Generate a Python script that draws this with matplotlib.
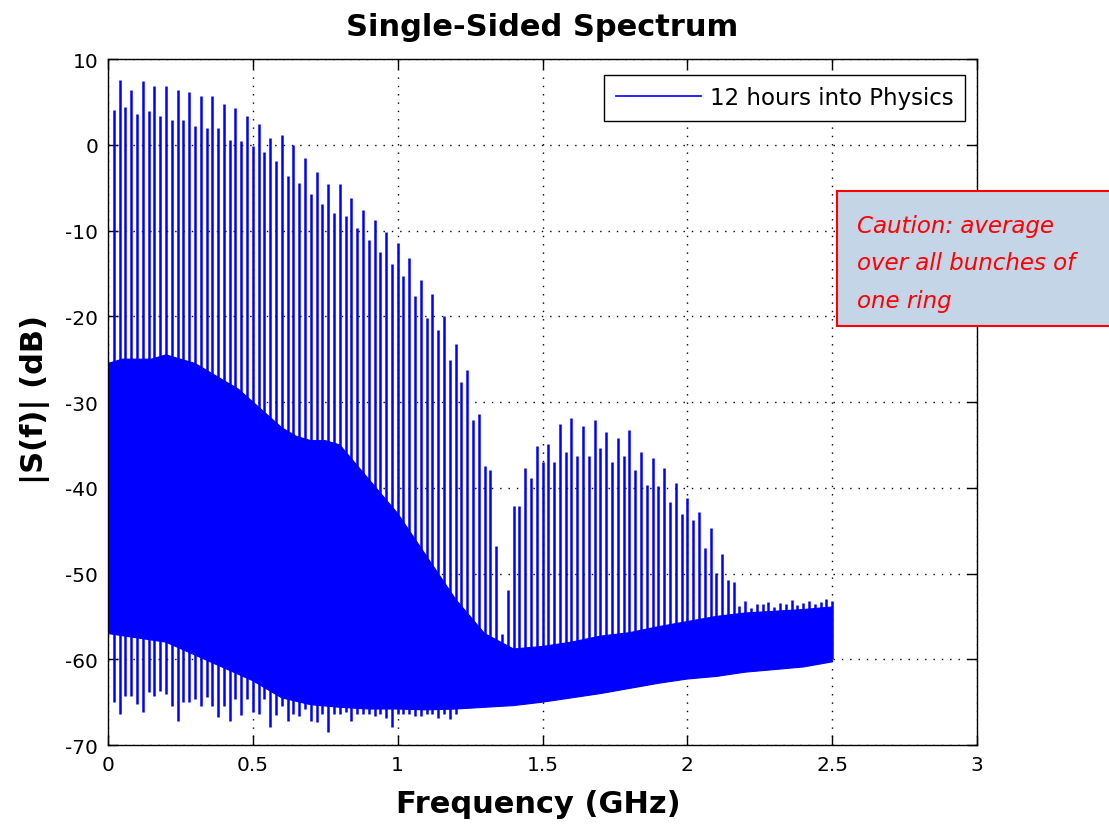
import numpy as np
import matplotlib.pyplot as plt
from matplotlib.patches import Rectangle
from matplotlib.lines import Line2D

# harmonic lines every 20 MHz (50 ns bunch spacing), peak level in dB
harm_step = 0.02
peak_db = [
    4.1, 7.6, 4.4, 6.4, 3.6, 7.4, 3.9, 6.9, 3.4, 6.9,
    2.9, 6.4, 2.9, 6.2, 2.2, 5.7, 2.0, 5.7, 2.0, 4.8,
    0.6, 4.3, 0.4, 3.3, -0.2, 2.4, -0.9, 0.8, -1.9, 1.1,
    -3.6, 0.0, -4.5, -1.5, -5.7, -3.2, -6.9, -4.6, -7.9, -4.6,
    -8.3, -6.2, -9.7, -7.6, -11.1, -8.8, -12.5, -10.2, -13.9, -11.4,
    -15.3, -13.2, -17.6, -15.8, -20.2, -17.4, -21.6, -20.0, -25.1, -23.2,
    -27.7, -26.3, -32.1, -31.4, -37.5, -37.9, -46.8, -57.0, -51.9, -42.1,
    -42.1, -37.7, -38.9, -35.1, -37.0, -34.9, -37.0, -32.6, -35.8, -31.9,
    -36.3, -32.8, -36.3, -32.1, -35.4, -33.5, -37.0, -34.2, -36.3, -33.3,
    -37.9, -35.8, -39.7, -36.5, -39.8, -37.7, -41.7, -39.4, -43.1, -41.2,
    -43.8, -42.8, -47.0, -44.7, -49.9, -47.7, -50.8, -51.0, -53.8, -53.2,
    -54.0, -53.5, -53.6, -53.3, -53.9, -53.4, -53.5, -53.1, -53.7, -53.4,
    -53.2, -53.6, -53.3, -53.0, -53.2,
]
# lower excursions below the noise band (first harmonics)
dip_db = [
    -65.0, -66.4, -64.3, -64.3, -65.2, -66.1, -63.8, -64.3, -63.7, -64.0,
    -65.4, -67.2, -65.0, -65.0, -64.6, -65.4, -64.4, -65.4, -66.7, -65.5,
    -67.2, -64.6, -66.5, -64.6, -66.1, -66.4, -64.6, -67.9, -66.5, -65.4,
    -67.2, -66.4, -66.6, -65.8, -67.2, -67.3, -66.4, -68.5, -66.4, -66.4,
    -66.1, -67.2, -66.4, -66.4, -66.4, -66.6, -66.4, -66.9, -67.9, -66.4,
    -66.4, -66.4, -66.6, -66.6, -66.4, -66.4, -66.9, -66.4, -67.0, -66.4,
]
# noise band envelope
top_freq = [0.0, 0.05, 0.10, 0.15, 0.20, 0.25, 0.30, 0.35, 0.40, 0.45,
            0.50, 0.55, 0.60, 0.65, 0.70, 0.75, 0.80, 0.85, 0.90, 0.95,
            1.00, 1.05, 1.10, 1.15, 1.20, 1.25, 1.30, 1.40, 1.50, 1.60,
            1.70, 1.80, 1.90, 2.00, 2.10, 2.20, 2.30, 2.40, 2.50]
top_db = [-25.5, -25.0, -25.0, -25.0, -24.5, -25.0, -25.5, -26.5, -27.5, -28.5,
          -30.0, -31.5, -33.0, -34.0, -34.5, -34.5, -35.0, -37.0, -39.0, -41.0,
          -43.0, -45.5, -48.0, -50.5, -53.0, -55.0, -57.0, -58.8, -58.5, -58.0,
          -57.3, -56.9, -56.2, -55.6, -55.0, -54.6, -54.4, -54.2, -53.9]
bot_freq = [0.0, 0.1, 0.2, 0.3, 0.4, 0.5, 0.6, 0.7, 0.8, 0.9,
            1.0, 1.1, 1.2, 1.3, 1.4, 1.5, 1.6, 1.7, 1.8, 1.9,
            2.0, 2.1, 2.2, 2.3, 2.4, 2.5]
bot_db = [-57.0, -57.5, -58.0, -59.5, -61.0, -62.5, -64.5, -65.3, -65.6, -65.8,
          -65.8, -65.9, -65.8, -65.6, -65.4, -65.0, -64.5, -64.0, -63.4, -62.8,
          -62.3, -62.0, -61.5, -61.2, -60.9, -60.3]

harm_freq = harm_step * np.arange(1, len(peak_db) + 1)
line_base = np.full(len(peak_db), -60.0)
line_base[:len(dip_db)] = dip_db

plt.rcParams['font.family'] = ['DejaVu Sans']
plt.rcParams['axes.unicode_minus'] = False

fig = plt.figure(figsize=(11.09, 8.28), dpi=100)
ax = fig.add_axes([0.0974, 0.0990, 0.7836, 0.8285])

blue = '#0000ff'
band_x = list(top_freq) + list(bot_freq[::-1])
band_y = list(top_db) + list(bot_db[::-1])
ax.fill(band_x, band_y, color=blue, lw=0.8, zorder=2)
ax.vlines(harm_freq, line_base, peak_db, color=blue, lw=1.8, zorder=3)

ax.set_xlim(0, 3)
ax.set_ylim(-70, 10)
ax.set_xticks([0, 0.5, 1, 1.5, 2, 2.5, 3])
ax.set_xticklabels(['0', '0.5', '1', '1.5', '2', '2.5', '3'])
ax.set_yticks(np.arange(-70, 11, 10))
ax.set_axisbelow(True)
ax.grid(True, color='black', linestyle=(0, (1, 5)), linewidth=1.0)
ax.tick_params(direction='in', length=7, top=True, right=True,
               labelsize=14.5, pad=7, width=1)
for s in ax.spines.values():
    s.set_linewidth(1.0)

fig.text(0.489, 0.967, 'Single-Sided Spectrum', ha='center', va='center',
         fontsize=22, fontweight='bold')
fig.text(0.485, 0.028, 'Frequency (GHz)', ha='center', va='center',
         fontsize=22, fontweight='bold')
fig.text(0.0316, 0.517, '|S(f)| (dB)', ha='center', va='center',
         fontsize=22, fontweight='bold', rotation=90)

handle = Line2D([], [], color=blue, lw=1.2)
ax.legend([handle], ['12 hours into Physics'], loc='upper right',
          bbox_to_anchor=(0.986, 0.977), borderaxespad=0, fancybox=False,
          framealpha=1, edgecolor='black', fontsize=16.5, handlelength=3.7,
          handletextpad=0.4, borderpad=0.5).get_frame().set_linewidth(1.0)

fig.patches.append(Rectangle((0.7547, 0.605), 0.26, 0.163,
                             transform=fig.transFigure, facecolor='#c3d5e6',
                             edgecolor='#ff0000', lw=1.5, zorder=5))
for i, txt in enumerate(['Caution: average', 'over all bunches of', 'one ring']):
    fig.text(0.7728, 1 - (232.7 + 37.5 * i) / 828, txt, ha='left', va='baseline',
             fontsize=16.5, fontstyle='italic', color='#ff0000', zorder=6)

fig.savefig('out.png', dpi=100)
